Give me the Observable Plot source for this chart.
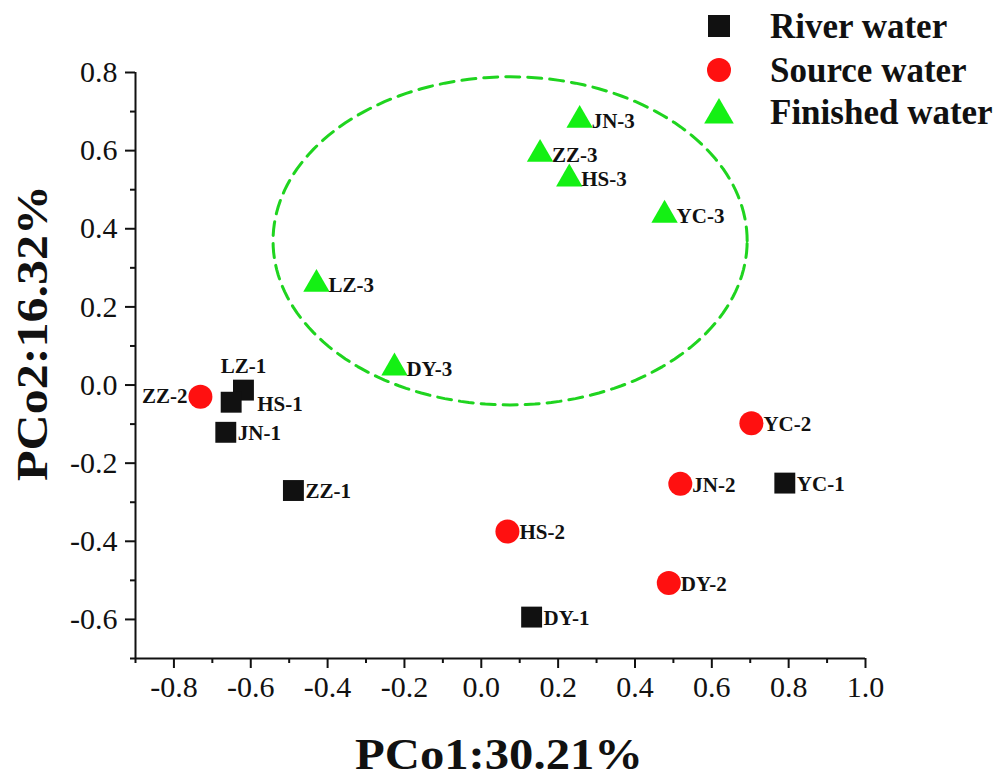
<!DOCTYPE html>
<html><head><meta charset="utf-8">
<script src="https://cdn.jsdelivr.net/npm/d3@7"></script>
<script src="https://cdn.jsdelivr.net/npm/@observablehq/plot@0.6"></script>
<style>
body{margin:0;background:#fff;}
#wrap{position:relative;width:1003px;height:780px;font-family:'Liberation Serif','Times New Roman',serif;}
#wrap svg text{font-family:'Liberation Serif','Times New Roman',serif !important;}
#overlay{position:absolute;left:0;top:0;overflow:visible;pointer-events:none;}
</style></head><body><div id="wrap"></div>
<script>
// ---- data ----
const riverNames = ["LZ-1","HS-1","JN-1","ZZ-1","DY-1","YC-1"];
const riverX = [-0.619,-0.651,-0.665,-0.489,0.131,0.790];
const riverY = [-0.013,-0.044,-0.121,-0.270,-0.594,-0.251];
const sourceNames = ["ZZ-2","YC-2","JN-2","HS-2","DY-2"];
const sourceX = [-0.731,0.703,0.518,0.068,0.488];
const sourceY = [-0.030,-0.098,-0.253,-0.375,-0.507];
const finishedNames = ["JN-3","ZZ-3","HS-3","YC-3","LZ-3","DY-3"];
const finishedX = [0.256,0.153,0.229,0.477,-0.429,-0.226];
const finishedY = [0.678,0.591,0.528,0.435,0.258,0.044];
const groups = ["River water","Source water","Finished water"];
const xTicks = [-0.8,-0.6,-0.4,-0.2,0.0,0.2,0.4,0.6,0.8,1.0];
const yTicks = [0.8,0.6,0.4,0.2,0.0,-0.2,-0.4,-0.6];
const xMinor = [-0.9,-0.7,-0.5,-0.3,-0.1,0.1,0.3,0.5,0.7,0.9];
const yMinor = [0.7,0.5,0.3,0.1,-0.1,-0.3,-0.5,-0.7];
const xTitle = "PCo1:30.21%";
const yTitle = "PCo2:16.32%";
// confidence ellipse (centre and semi-axes, data units)
const ellCx = 0.075, ellCy = 0.369, ellRx = 0.617, ellRy = 0.420;

// ---- build tables ----
const zip = (names, xs, ys, group) => names.map((n, i) => ({name: n, x: xs[i], y: ys[i], group}));
const river = zip(riverNames, riverX, riverY, groups[0]);
const source = zip(sourceNames, sourceX, sourceY, groups[1]);
const finished = zip(finishedNames, finishedX, finishedY, groups[2]);
const allPts = [...river, ...source, ...finished];
const ellipsePts = d3.range(0, 361, 2).map(a => {
  const t = a * Math.PI / 180;
  return {x: ellCx + ellRx * Math.cos(t), y: ellCy + ellRy * Math.sin(t)};
});

const colors = {black: "#111111", red: "#ff1010", green: "#14f014", dash: "#1fd41f"};
const FONT = "'Liberation Serif','Times New Roman',serif";
const fmt = d => d.toFixed(1);
const aboveLabels = new Set(["LZ-1"]);
const leftLabels = new Set(["ZZ-2"]);
const shiftedLabels = new Set(["HS-1"]);
const normal = allPts.filter(d => !aboveLabels.has(d.name) && !leftLabels.has(d.name) && !shiftedLabels.has(d.name));
const labelStyle = {text: "name", fontSize: 21, fontWeight: "bold", fill: "#111", fontFamily: FONT};
const axisStyle = {fontFamily: FONT, fontSize: 30, strokeWidth: 2, label: null, color: "#111"};

const chart = Plot.plot({
  width: 1003, height: 780,
  marginLeft: 135, marginRight: 138, marginTop: 72, marginBottom: 122,
  x: {domain: [-0.9, 1.0]},
  y: {domain: [-0.7, 0.8]},
  style: {fontFamily: FONT, background: "white", color: "#111"},
  marks: [
    Plot.line(ellipsePts, {x: "x", y: "y", stroke: colors.dash, strokeWidth: 3, strokeDasharray: "14 8"}),
    Plot.ruleX([-0.9], {stroke: "#111", strokeWidth: 2}),
    Plot.ruleY([-0.7], {stroke: "#111", strokeWidth: 2}),
    Plot.axisX({...axisStyle, ticks: xTicks, tickSize: 10, tickPadding: 7, tickFormat: fmt}),
    Plot.axisX({...axisStyle, ticks: xMinor, tickSize: 5, tickFormat: () => ""}),
    Plot.axisY({...axisStyle, ticks: yTicks, tickSize: 10, tickPadding: 8, tickFormat: fmt}),
    Plot.axisY({...axisStyle, ticks: yMinor, tickSize: 5, tickFormat: () => ""}),
    Plot.dot(river, {x: "x", y: "y", symbol: "square", r: 11.8, fill: colors.black}),
    Plot.dot(source, {x: "x", y: "y", symbol: "circle", r: 12, fill: colors.red}),
    Plot.dot(finished, {x: "x", y: "y", symbol: "triangle", r: 9.8, fill: colors.green}),
    Plot.text(normal, {x: "x", y: "y", ...labelStyle, textAnchor: "start", dx: 12, dy: 1}),
    Plot.text(allPts.filter(d => aboveLabels.has(d.name)), {x: "x", y: "y", ...labelStyle, textAnchor: "middle", dy: -24}),
    Plot.text(allPts.filter(d => leftLabels.has(d.name)), {x: "x", y: "y", ...labelStyle, textAnchor: "end", dx: -13}),
    Plot.text(allPts.filter(d => shiftedLabels.has(d.name)), {x: "x", y: "y", ...labelStyle, textAnchor: "start", dx: 26, dy: 2})
  ]
});
const wrap = document.getElementById("wrap");
wrap.appendChild(chart);

// ---- overlay: axis titles and legend ----
const ov = d3.select(wrap).append("svg").attr("id", "overlay").attr("width", 1003).attr("height", 780);
const titleText = (sel) => sel.attr("text-anchor", "middle").attr("dy", "0.35em")
  .attr("font-family", FONT).attr("font-weight", "bold").attr("font-size", 45).attr("fill", "#111")
  .attr("lengthAdjust", "spacingAndGlyphs");
ov.append("text").call(titleText)
  .attr("transform", "translate(499,753)").attr("textLength", 288).text(xTitle);
ov.append("text").call(titleText)
  .attr("transform", "translate(31,333) rotate(-90)").attr("textLength", 296).text(yTitle);
const symFill = [colors.black, colors.red, colors.green];
const symType = [d3.symbolSquare, d3.symbolCircle, d3.symbolTriangle];
const symSize = [22 * 22, Math.PI * 12 * 12, Math.PI * 11 * 11];
const rowY = [26, 70, 112];
ov.selectAll("path.sym").data(groups).join("path").attr("class", "sym")
  .attr("transform", (d, i) => `translate(719,${rowY[i] + (i === 2 ? 3 : 0)})`)
  .attr("d", (d, i) => d3.symbol(symType[i], symSize[i])()).attr("fill", (d, i) => symFill[i]);
ov.selectAll("text.leg").data(groups).join("text").attr("class", "leg")
  .attr("x", 770).attr("y", (d, i) => rowY[i]).attr("dy", "0.33em")
  .attr("font-family", FONT).attr("font-weight", "bold").attr("font-size", 35).attr("fill", "#111")
  .text(d => d);
</script></body></html>
